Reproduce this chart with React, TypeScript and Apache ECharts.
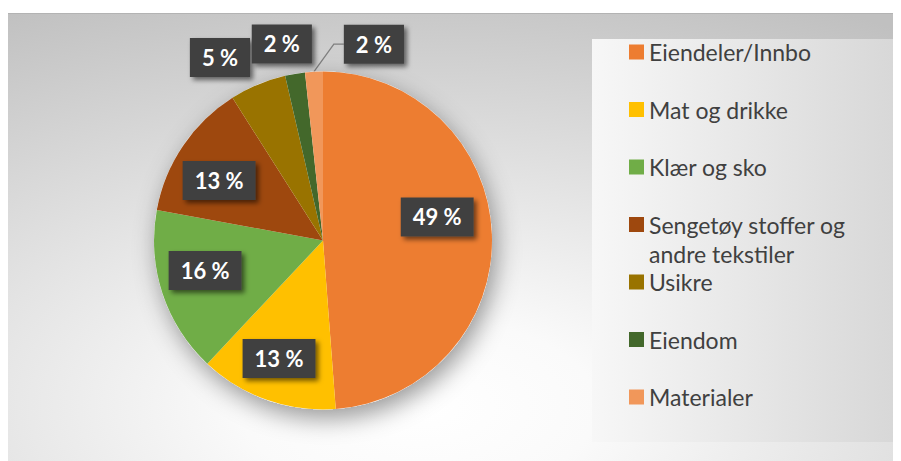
import React, { useEffect, useRef } from 'react';
import * as echarts from 'echarts';

// ---- data ----
const categories = [
  'Eiendeler/Innbo',
  'Mat og drikke',
  'Klær og sko',
  'Sengetøy stoffer og andre tekstiler',
  'Usikre',
  'Eiendom',
  'Materialer',
];
const shares = [48.8, 13.2, 15.9, 13.1, 5.4, 1.9, 1.7];

// ---- styling / layout ----
const colors = ['#ED7D31', '#FFC000', '#70AD47', '#9E480E', '#997300', '#43682B', '#F1975A'];
// label placement: [angle nudge in degrees from slice mid-angle, distance as ratio of radius]
const labelPlacement = [
  [-9.5, 0.69],
  [1, 0.745],
  [3.9, 0.72],
  [-4, 0.71],
  [-6.7, 1.243],
  [-2.3, 1.188],
  [17.6, 1.2],
];
const withLeader = [false, false, false, false, false, false, true];

const W = 893;
const H = 453;
const CX = 315;
const CY = 232.5;
const R = 169;

export default function App() {
  const ref = useRef<HTMLDivElement>(null);
  useEffect(() => {
    if (!ref.current) return;
    const chart = echarts.init(ref.current, null, { renderer: 'svg' });
    const total = shares.reduce((a, b) => a + b, 0);
    const midAngle = (i: number) => {
      let cum = 0;
      for (let j = 0; j < i; j++) cum += shares[j];
      return ((cum + shares[i] / 2) / total) * 360;
    };
    const legendBase: any = {
      orient: 'vertical',
      left: 621,
      padding: 0,
      itemWidth: 15,
      itemHeight: 15,
      itemGap: 28.5,
      icon: 'rect',
      selectedMode: false,
      textStyle: {
        fontFamily: 'Lato',
        fontSize: 23,
        color: '#404040',
        lineHeight: 29,
        height: 29,
        width: 240,
        overflow: 'break',
        rich: { n: {} },
      },
    };
    const option: any = {
      animation: false,
      graphic: [
        {
          type: 'rect',
          silent: true,
          z: -10,
          shape: { x: 0, y: 5, width: W, height: H - 5 },
          style: {
            fill: new echarts.graphic.RadialGradient(0.46, 0.88, 1.0, [
              { offset: 0, color: '#ffffff' },
              { offset: 0.2, color: '#fafafa' },
              { offset: 1, color: '#c0c0c0' },
            ]),
          },
        },
        {
          type: 'line',
          silent: true,
          z: -9,
          shape: { x1: 0, y1: 5.5, x2: W, y2: 5.5 },
          style: { stroke: '#b3b3b3', lineWidth: 1 },
        },
        {
          type: 'rect',
          silent: true,
          z: -9,
          shape: { x: 584, y: 31, width: W - 584, height: 403 },
          style: {
            fill: new echarts.graphic.LinearGradient(0, 0, 1, 0, [
              { offset: 0, color: '#f7f7f7' },
              { offset: 1, color: '#d7d7d7' },
            ]),
          },
        },
      ],
      legend: [
        { ...legendBase, top: 29.5, data: categories.slice(0, 4) },
        { ...legendBase, top: 259.5, data: categories.slice(4) },
      ],
      series: [
        {
          type: 'pie',
          silent: true,
          center: [CX, CY],
          radius: R,
          label: { show: false },
          labelLine: { show: false },
          itemStyle: {
            color: '#ffffff',
            shadowBlur: 24,
            shadowColor: 'rgba(0,0,0,0.4)',
            shadowOffsetX: 4,
            shadowOffsetY: 9,
          },
          data: [{ name: '__backdrop', value: total }],
        },
        {
          type: 'pie',
          center: [CX, CY],
          radius: R,
          startAngle: 90,
          clockwise: true,
          avoidLabelOverlap: false,
          itemStyle: { borderWidth: 0 },
          label: {
            show: true,
            formatter: (p: any) => Math.round(p.percent) + ' %',
            fontFamily: 'Lato',
            fontWeight: 'bold',
            fontSize: 22,
            lineHeight: 22,
            color: '#ffffff',
            backgroundColor: '#414141',
            padding: [8.5, 12],
            shadowColor: 'rgba(0,0,0,0.55)',
            shadowBlur: 5,
            shadowOffsetX: 3,
            shadowOffsetY: 3,
          },
          labelLine: {
            lineStyle: { color: '#7f7f7f', width: 1.3 },
          },
          labelLayout: (p: any) => {
            const i = p.dataIndex;
            const mid = midAngle(i);
            const a = ((mid + labelPlacement[i][0]) * Math.PI) / 180;
            const r = R * labelPlacement[i][1];
            const x = CX + r * Math.sin(a);
            const y = CY - r * Math.cos(a);
            const out: any = { x, y, align: 'center', verticalAlign: 'middle' };
            if (withLeader[i]) {
              const am = (mid * Math.PI) / 180;
              const sx = CX + R * Math.sin(am);
              const sy = CY - R * Math.cos(am);
              const left = x - p.labelRect.width / 2;
              out.labelLinePoints = [
                [sx, sy],
                [left - 10, y],
                [left, y],
              ];
            }
            return out;
          },
          data: categories.map((name, i) => ({
            name,
            value: shares[i],
            itemStyle: { color: colors[i] },
            label: { position: withLeader[i] ? 'outside' : 'inside' },
            labelLine: { show: withLeader[i] },
          })),
        },
      ],
    };
    chart.setOption(option);
    return () => chart.dispose();
  }, []);
  return <div ref={ref} style={{ width: W, height: H }} />;
}
